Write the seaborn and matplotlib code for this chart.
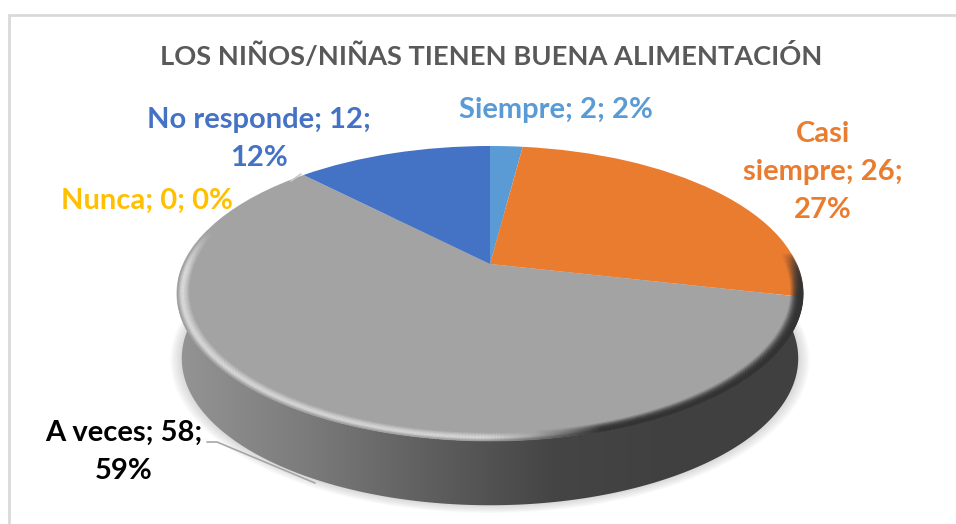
import numpy as np
import seaborn as sns
import matplotlib.pyplot as plt
from matplotlib.transforms import Transform
from matplotlib.patches import Polygon, Rectangle

categorias = ["Siempre", "Casi siempre", "A veces", "Nunca", "No responde"]
valores = [2, 26, 58, 0, 12]
porcentajes = [2, 27, 59, 0, 12]
colores = ["#5b9bd5", "#ea7c30", "#a3a3a3", "#ffc000", "#4472c4"]
titulo = "LOS NIÑOS/NIÑAS TIENEN BUENA ALIMENTACIÓN"

sns.set_theme(style="white")
plt.rcParams['font.family'] = ['Lato', 'DejaVu Sans']

# disk seen in perspective, pixel numbers are layout of the picture
K = 0.2
def proyectar(u, v, cy=264.0, a=306.7, b=141.6, cx=490.0):
    d = 1 + K * v
    return cx + a * u / d, 524 - (cy - b * v / d)

class Perspectiva(Transform):
    input_dims = 2
    output_dims = 2
    def transform_non_affine(self, xy):
        xy = np.asarray(xy)
        x, y = proyectar(xy[:, 0], xy[:, 1])
        return np.column_stack([x, y])

fig = plt.figure(figsize=(9.56, 5.24), dpi=100)
ax = fig.add_axes([0, 0, 1, 1])
ax.set_xlim(0, 956)
ax.set_ylim(0, 524)
ax.axis("off")

ax.add_patch(Rectangle((9, -20), 980, 529, fc="white", ec="#d9d9d9", lw=2))

t = np.linspace(0, 2 * np.pi, 400)
# soft shadow under the disk
for s in np.linspace(1.035, 1.0, 8):
    x, y = proyectar(s * np.cos(t), s * np.sin(t), cy=329, a=302, b=141)
    ax.add_patch(Polygon(np.column_stack([x, y]), fc="#808080", ec="none", alpha=0.045))

# side wall: horizontal gradient clipped to top edge + lower edge
xa, ya = proyectar(np.cos(t), np.sin(t))
xb, yb = proyectar(np.cos(t), np.sin(t), cy=329, a=302, b=141)
mitad = (t >= np.pi) & (t <= 2 * np.pi)
lado = np.vstack([np.column_stack([xb[mitad], yb[mitad]]),
                  np.column_stack([xa[mitad][::-1], ya[mitad][::-1]])])
pared = Polygon(lado, fc="none", ec="none")
ax.add_patch(pared)
img = ax.imshow(np.arange(256)[None, :], cmap=sns.blend_palette(
    ["#949494", "#7c7c7c", "#5f5f5f", "#454545", "#404040", "#404040"], 256, as_cmap=True),
    extent=(178, 803, 0, 524), aspect="auto", zorder=2)
img.set_clip_path(pared)

# top face
wedges, _ = ax.pie(valores, colors=colores, startangle=90, counterclock=False,
                   radius=1, center=(0, 0), frame=False)
for w in wedges:
    w.set_transform(Perspectiva() + ax.transData)
    w.set_edgecolor("none")
    w.set_zorder(3)
ax.set_aspect("auto")
ax.set_xlim(0, 956)
ax.set_ylim(0, 524)
ax.axis("off")

# bevel round the rim, smooth shading on the grid vertices
ang = np.linspace(0, 2 * np.pi, 721)
rad = np.linspace(0.96, 1.0, 9)
A, R = np.meshgrid(ang, rad)
mx, my = proyectar(R * np.sin(A), R * np.cos(A))
f = (R - 0.96) / 0.04
der = np.clip((np.sin(A) + 0.02) / 0.32, 0, 1)
peso_izq = np.clip((0.25 - np.cos(A)) / 0.3, 0, 1)
peso_der = np.clip((0.08 - np.cos(A)) / 0.3, 0, 1)
luz = np.clip(f / 0.6, 0, 1) * 0.2
borde = np.clip((f - 0.6) / 0.4, 0, 1)
gris_izq = 1.0 - 0.42 * borde
alfa_izq = luz * (1 - borde) + 0.4 * borde
rgba = np.zeros(A.shape + (4,))
rgba[..., 0] = rgba[..., 1] = rgba[..., 2] = (1 - der) * gris_izq + der * 0.2
rgba[..., 3] = (1 - der) * peso_izq * alfa_izq + der * peso_der * f ** 1.4 * 0.95
ax.pcolormesh(mx, my, rgba, zorder=4, shading="gouraud")
ax.set_xlim(0, 956)
ax.set_ylim(0, 524)

# leader lines
ax.plot([207, 217, 315], [524 - 442, 524 - 442, 524 - 483], color="#a6a6a6", lw=1.2, zorder=5)
ax.plot([291, 301], [524 - 181, 524 - 174], color="#c8c8c8", lw=1.2, zorder=5)

ax.text(491, 524 - 56, titulo, ha="center", va="center", fontsize=19.6,
        color="#595959", fontweight="bold")

def etiqueta(i, x, y, texto, color=None):
    ax.text(x, 524 - y, texto, ha="center", va="center", fontsize=21, fontweight="bold",
            color=color or colores[i], linespacing=1.55, zorder=6)

def rotulo(i):
    return f"{categorias[i]}; {valores[i]}; {porcentajes[i]}%"

etiqueta(0, 556, 110, rotulo(0))
etiqueta(1, 823, 172, f"Casi\nsiempre; {valores[1]};\n{porcentajes[1]}%")
etiqueta(2, 124, 452, f"{categorias[2]}; {valores[2]};\n{porcentajes[2]}%", color="black")
etiqueta(3, 147, 201, rotulo(3))
etiqueta(4, 259, 139, f"{categorias[4]}; {valores[4]};\n{porcentajes[4]}%")

plt.savefig("out.png", dpi=100)
